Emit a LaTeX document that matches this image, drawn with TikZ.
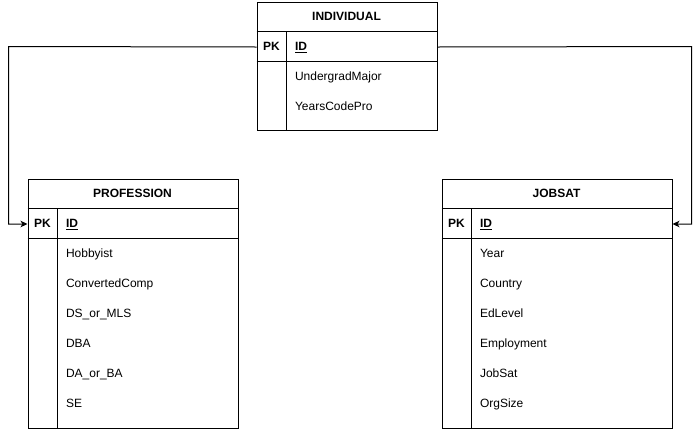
\documentclass[tikz,border=0pt]{standalone}
\usepackage{fontspec}
\setmainfont{Liberation Sans}
\usetikzlibrary{arrows.meta}
\begin{document}
\begin{tikzpicture}[x=1pt,y=-1pt, line width=1pt,
  tbl/.style={draw=black, fill=white, rectangle, inner sep=0pt, anchor=north west},
  rowbox/.style={rectangle, inner sep=0pt, anchor=north west, minimum height=30pt},
  hdr/.style={font=\fontsize{12}{14}\selectfont\bfseries, inner sep=0pt, anchor=base},
  fld/.style={font=\fontsize{12}{14}\selectfont, inner sep=0pt, anchor=base west},
  pkl/.style={font=\fontsize{12}{14}\selectfont\bfseries, inner sep=0pt, anchor=base},
  idl/.style={font=\fontsize{12}{14}\selectfont\bfseries, inner sep=0pt, anchor=base west},
  conn/.style={draw=black, line width=1pt, -{Stealth[length=7pt,width=6.5pt,inset=2pt]}}]
\useasboundingbox (0,0) rectangle (700,429);
\fill[white] (0,0) rectangle (700,429);

% INDIVIDUAL
\node[tbl, minimum width=180pt, minimum height=128pt] (ind) at (256.5,1.5) {};
\draw (256.5,31.5) -- (436.5,31.5);
\draw (256.5,61.5) -- (436.5,61.5);
\draw (286.5,31.5) -- (286.5,129.5);
\node[rowbox, minimum width=180pt] (indpk) at (256.5,31.5) {};
\node[hdr] (indh) at (346.5,20.8) {INDIVIDUAL};
\node[pkl] (indpkl) at (271.5,50.8) {PK};
\node[idl] (indid) at (294.5,50.8) {\underline{ID}};
\node[fld] (ind1) at (294.5,80.8) {UndergradMajor};
\node[fld] (ind2) at (294.5,110.8) {YearsCodePro};

% PROFESSION
\node[tbl, minimum width=210pt, minimum height=249.5pt] (prof) at (27.5,178.5) {};
\draw (27.5,208.5) -- (237.5,208.5);
\draw (27.5,238.5) -- (237.5,238.5);
\draw (57.5,208.5) -- (57.5,428);
\node[rowbox, minimum width=210pt] (profpk) at (27.5,208.5) {};
\node[hdr] (profh) at (132.5,197.8) {PROFESSION};
\node[pkl] (profpkl) at (42.5,227.8) {PK};
\node[idl] (profid) at (65.5,227.8) {\underline{ID}};
\foreach \t [count=\i] in {Hobbyist,ConvertedComp,DS\_or\_MLS,DBA,DA\_or\_BA,SE}
  \node[fld] (prof\i) at (65.5,227.8+30*\i) {\t};

% JOBSAT
\node[tbl, minimum width=230pt, minimum height=249.5pt] (job) at (441.5,178.5) {};
\draw (441.5,208.5) -- (671.5,208.5);
\draw (441.5,238.5) -- (671.5,238.5);
\draw (471.5,208.5) -- (471.5,428);
\node[rowbox, minimum width=230pt] (jobpk) at (441.5,208.5) {};
\node[hdr] (jobh) at (556.5,197.8) {JOBSAT};
\node[pkl] (jobpkl) at (456.5,227.8) {PK};
\node[idl] (jobid) at (479.5,227.8) {\underline{ID}};
\foreach \t [count=\i] in {Year,Country,EdLevel,Employment,JobSat,OrgSize}
  \node[fld] (job\i) at (479.5,227.8+30*\i) {\t};

% connectors
\coordinate (lj) at (8.5,46.5);
\coordinate (rj) at (691.5,46.5);
\draw[conn] (indpk.west) -- (lj) |- (profpk.west);
\draw[conn] (indpk.east) -- (rj) |- (jobpk.east);
\end{tikzpicture}
\end{document}
